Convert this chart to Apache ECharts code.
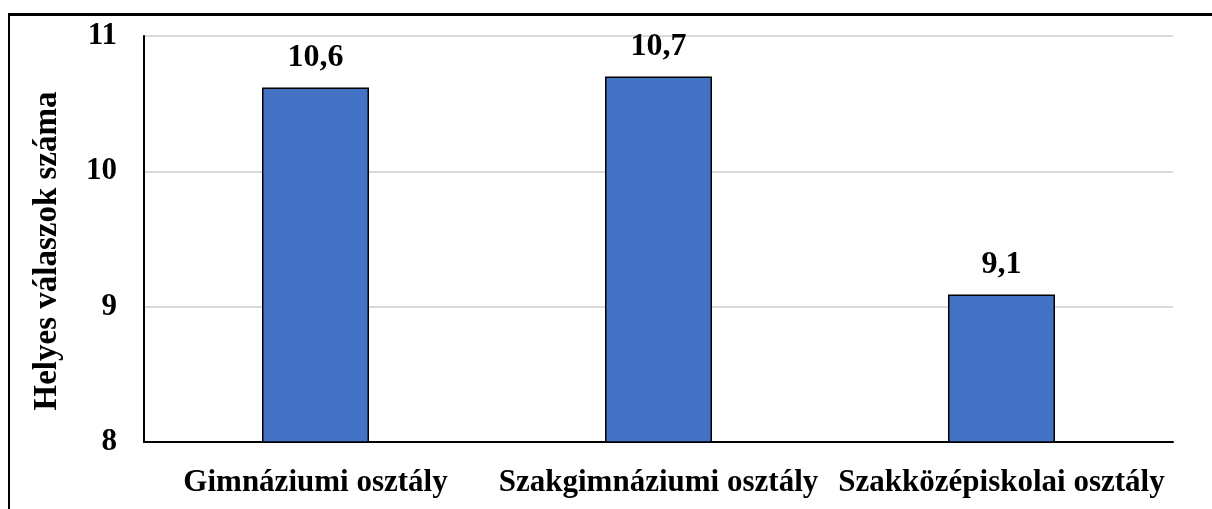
<!DOCTYPE html>
<html>
<head>
<meta charset="utf-8">
<script src="https://cdn.jsdelivr.net/npm/echarts@6/dist/echarts.min.js"></script>
<style>
html,body{margin:0;padding:0;background:#fff;overflow:hidden;}
#frame{position:absolute;left:8px;top:13px;width:1300px;height:600px;border-left:2px solid #000;border-top:3px solid #000;}
#chart{position:absolute;left:0;top:0;width:1212px;height:509px;}
</style>
</head>
<body>
<div id="frame"></div>
<div id="chart"></div>
<script>
const categories = ['Gimnáziumi osztály', 'Szakgimnáziumi osztály', 'Szakközépiskolai osztály'];
const values = [10.62, 10.70, 9.09];
const yAxisTitle = 'Helyes válaszok száma';

const chart = echarts.init(document.getElementById('chart'), null, {renderer: 'canvas'});
const font = '"Liberation Serif", "Times New Roman", serif';
chart.setOption({
  animation: false,
  grid: {left: 144, right: 39, top: 36, bottom: 67, containLabel: false},
  xAxis: {
    type: 'category',
    data: categories,
    axisLine: {show: true, lineStyle: {color: '#000', width: 2}},
    axisTick: {show: false},
    axisLabel: {color: '#000', fontFamily: font, fontWeight: 'bold', fontSize: 31, margin: 25, interval: 0}
  },
  yAxis: {
    type: 'value',
    min: 8, max: 11, interval: 1,
    name: yAxisTitle,
    nameLocation: 'middle',
    nameGap: 80,
    nameTextStyle: {color: '#000', fontFamily: font, fontWeight: 'bold', fontSize: 33, padding: [0, 24, 0, 0]},
    axisLine: {show: true, lineStyle: {color: '#000', width: 2}},
    axisTick: {show: false},
    axisLabel: {color: '#000', fontFamily: font, fontWeight: 'bold', fontSize: 31, margin: 27},
    splitLine: {show: true, lineStyle: {color: '#d9d9d9', width: 2}}
  },
  series: [{
    type: 'bar',
    data: values,
    barWidth: 107,
    itemStyle: {color: '#4472C4', borderColor: '#000', borderWidth: 1.5},
    label: {
      show: true, position: 'top', distance: 14,
      color: '#000', fontFamily: font, fontWeight: 'bold', fontSize: 32,
      formatter: p => p.value.toFixed(1).replace('.', ',')
    }
  }]
});
</script>
</body>
</html>
